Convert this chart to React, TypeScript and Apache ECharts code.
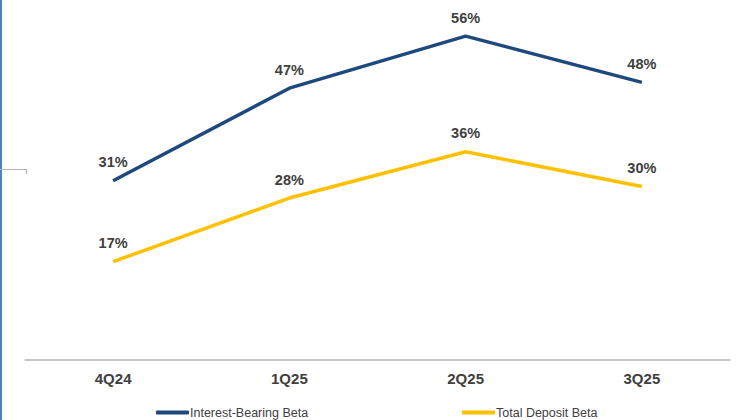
import React, { useEffect, useRef } from "react";
import * as echarts from "echarts";

const quarters = ["4Q24", "1Q25", "2Q25", "3Q25"];
const interestBearingBeta = [31, 47, 56, 48];
const totalDepositBeta = [17, 28, 36, 30];

const FONT = "'Liberation Sans', Arial, sans-serif";
const BLUE = "#1F497D";
const GOLD = "#FFC000";

export default function App() {
  const ref = useRef<HTMLDivElement>(null);

  useEffect(() => {
    if (!ref.current) return;
    const chart = echarts.init(ref.current, null, { renderer: "svg" });

    const dataLabel = {
      show: true,
      position: "top" as const,
      distance: 11,
      formatter: "{c}%",
      fontFamily: FONT,
      fontSize: 14.5,
      fontWeight: "bold" as const,
      color: "#404040",
    };

    const legendBase = {
      bottom: 1,
      padding: 0,
      itemWidth: 33,
      itemHeight: 4,
      icon: "roundRect",
      textStyle: { fontFamily: FONT, fontSize: 12.5, color: "#404040", padding: [0, 0, 0, -4] },
    };

    chart.setOption({
      animation: false,
      backgroundColor: "#ffffff",
      grid: { left: 25, right: 18, top: 13, bottom: 60 },
      legend: [
        { ...legendBase, left: 156, data: ["Interest-Bearing Beta"] },
        { ...legendBase, left: 462, data: ["Total Deposit Beta"] },
      ],
      xAxis: {
        type: "category",
        data: quarters,
        boundaryGap: true,
        axisLine: { lineStyle: { color: "#B4B4B4", width: 1.5 } },
        axisTick: { show: false },
        axisLabel: {
          margin: 11,
          fontFamily: FONT,
          fontSize: 15,
          fontWeight: "bold",
          color: "#404040",
        },
      },
      yAxis: {
        type: "value",
        min: 0,
        max: 60,
        show: false,
        splitLine: { show: false },
      },
      series: [
        {
          name: "Interest-Bearing Beta",
          type: "line",
          data: interestBearingBeta,
          showSymbol: true,
          symbol: "circle",
          symbolSize: 0.1,
          color: BLUE,
          lineStyle: { color: BLUE, width: 3.5 },
          label: dataLabel,
        },
        {
          name: "Total Deposit Beta",
          type: "line",
          data: totalDepositBeta,
          showSymbol: true,
          symbol: "circle",
          symbolSize: 0.1,
          color: GOLD,
          lineStyle: { color: GOLD, width: 3.5 },
          label: dataLabel,
        },
      ],
      graphic: [
        {
          type: "rect",
          shape: { x: 0, y: 0, width: 2, height: 420 },
          style: { fill: "#4F81BD" },
          silent: true,
        },
        {
          type: "polyline",
          shape: { points: [[0, 169.5], [26.5, 169.5], [26.5, 174]] },
          style: { stroke: "#B4B4B4", lineWidth: 1.2, fill: "none" },
          silent: true,
        },
      ],
    });

    return () => chart.dispose();
  }, []);

  return (
    <div
      ref={ref}
      style={{ position: "fixed", left: 0, top: 0, width: 748, height: 420 }}
    />
  );
}
